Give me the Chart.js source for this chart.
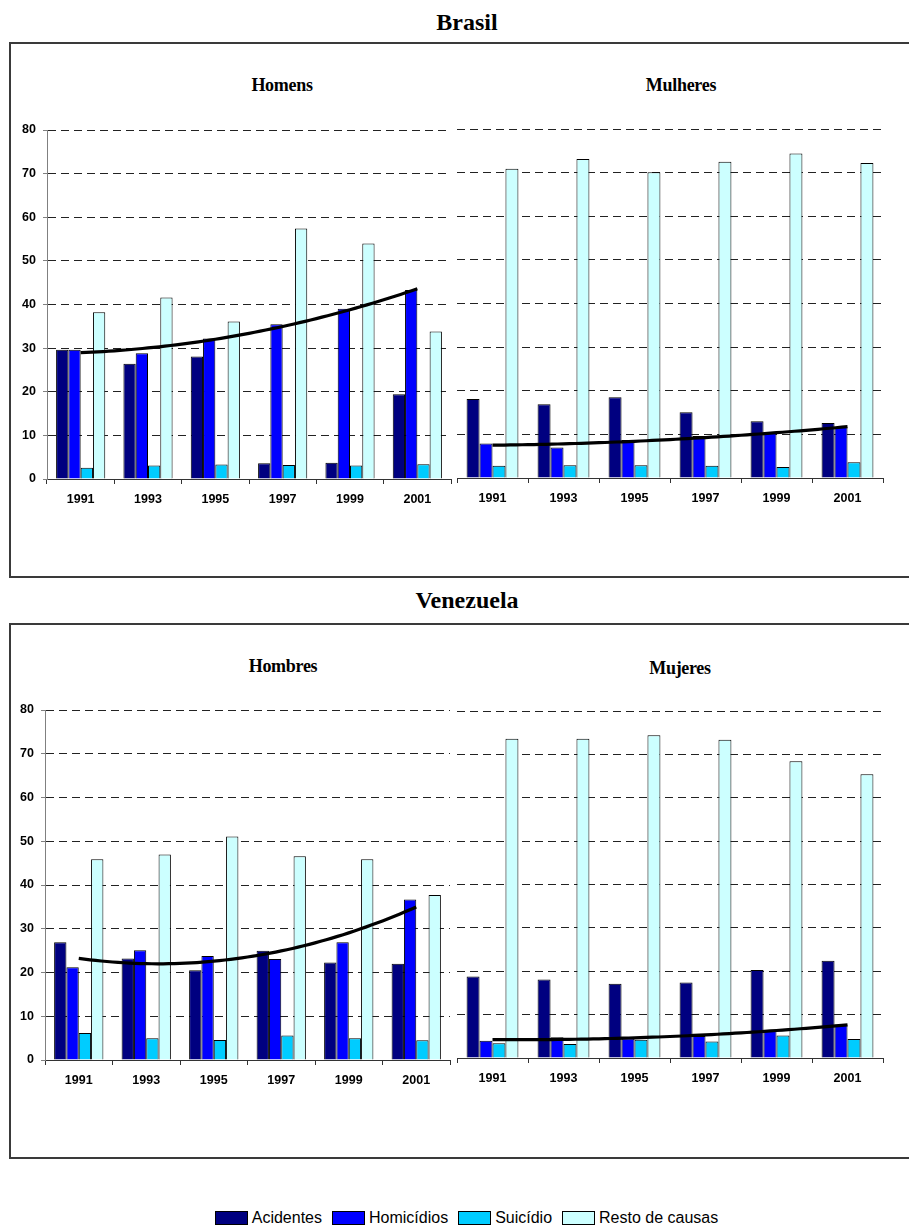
<!DOCTYPE html>
<html>
<head>
<meta charset="utf-8">
<script src="https://cdn.jsdelivr.net/npm/chart.js@4.4.1/dist/chart.umd.min.js"></script>
<style>
  html, body { margin: 0; padding: 0; background: #fff; }
  body { width: 909px; height: 1230px; position: relative; overflow: hidden;
         font-family: "Liberation Sans", Arial, sans-serif; color: #000; }
  .frame { position: absolute; border: 2px solid #3a3a3a; box-sizing: border-box; }
  .title { position: absolute; font-family: "Liberation Serif", "Times New Roman", serif;
           font-weight: bold; transform: translate(-50%, -50%); white-space: nowrap; }
  .main { font-size: 24px; }
  .sub { font-size: 18px; letter-spacing: -0.3px; }
  canvas { position: absolute; }
  #legend { position: absolute; left: 12px; top: 1209px; width: 909px; display: flex;
            justify-content: center; align-items: center; gap: 10px; font-size: 16px; }
  .item { display: flex; align-items: center; }
  .swatch { width: 31px; height: 12px; border: 1px solid #000; margin-right: 4px; }
</style>
</head>
<body>
<div class="title main" style="left:467px; top:22px;">Brasil</div>
<div class="frame" style="left:9px; top:42px; width:930px; height:536px;"></div>
<div class="title sub" style="left:282px; top:85px;">Homens</div>
<div class="title sub" style="left:681px; top:85px;">Mulheres</div>
<canvas id="brHom"></canvas><canvas id="brHomTrend"></canvas>
<canvas id="brMul"></canvas><canvas id="brMulTrend"></canvas>

<div class="title main" style="left:467px; top:600px;">Venezuela</div>
<div class="frame" style="left:9px; top:623px; width:930px; height:536px;"></div>
<div class="title sub" style="left:283px; top:666px;">Hombres</div>
<div class="title sub" style="left:680px; top:668px;">Mujeres</div>
<canvas id="veHom"></canvas><canvas id="veHomTrend"></canvas>
<canvas id="veMuj"></canvas><canvas id="veMujTrend"></canvas>

<div id="legend"></div>

<script>
// Categories and series
const years = ['1991', '1993', '1995', '1997', '1999', '2001'];
const causes = ['Acidentes', 'Homicídios', 'Suicídio', 'Resto de causas'];
const causeColors = ['#000080', '#0000FF', '#00CCFF', '#CCFFFF'];
const yMax = 80;
const yStep = 10;

// Brasil – Homens
const brHomAcidentes  = [29.6, 26.4, 28.1, 3.6, 3.7, 19.4];
const brHomHomicidios = [29.6, 28.8, 32.2, 35.5, 39.0, 43.3];
const brHomSuicidio   = [2.6, 3.1, 3.3, 3.2, 3.1, 3.4];
const brHomResto      = [38.2, 41.6, 36.1, 57.4, 54.0, 33.8];

// Brasil – Mulheres
const brMulAcidentes  = [18.1, 16.9, 18.5, 15.1, 13.0, 12.6];
const brMulHomicidios = [7.9, 7.0, 8.7, 9.6, 10.3, 11.7];
const brMulSuicidio   = [2.8, 2.9, 2.9, 2.8, 2.5, 3.6];
const brMulResto      = [70.9, 73.1, 70.1, 72.5, 74.4, 72.2];

// Venezuela – Hombres
const veHomAcidentes  = [26.9, 23.2, 20.5, 25.0, 22.3, 22.0];
const veHomHomicidios = [21.2, 25.1, 23.8, 23.1, 26.9, 36.7];
const veHomSuicidio   = [6.2, 5.0, 4.6, 5.6, 5.0, 4.5];
const veHomResto      = [45.9, 47.0, 51.1, 46.6, 45.9, 37.7];

// Venezuela – Mujeres
const veMujAcidentes  = [18.8, 18.1, 17.1, 17.4, 20.3, 22.4];
const veMujHomicidios = [4.0, 4.8, 4.5, 5.1, 6.4, 7.7];
const veMujSuicidio   = [3.4, 3.2, 4.2, 3.8, 5.2, 4.4];
const veMujResto      = [73.6, 73.6, 74.4, 73.4, 68.4, 65.4];

// Second-order least-squares trend of a series, sampled along the category index
function quadraticTrend(values, samples) {
  const n = values.length;
  let sx = 0, sx2 = 0, sx3 = 0, sx4 = 0, sy = 0, sxy = 0, sx2y = 0;
  values.forEach((y, x) => {
    sx += x; sx2 += x * x; sx3 += x ** 3; sx4 += x ** 4;
    sy += y; sxy += x * y; sx2y += x * x * y;
  });
  const M = [[n, sx, sx2], [sx, sx2, sx3], [sx2, sx3, sx4]];
  const v = [sy, sxy, sx2y];
  const det = m =>
    m[0][0] * (m[1][1] * m[2][2] - m[1][2] * m[2][1]) -
    m[0][1] * (m[1][0] * m[2][2] - m[1][2] * m[2][0]) +
    m[0][2] * (m[1][0] * m[2][1] - m[1][1] * m[2][0]);
  const D = det(M);
  const c = [0, 1, 2].map(k => det(M.map((row, i) => row.map((val, j) => (j === k ? v[i] : val)))) / D);
  const pts = [];
  for (let i = 0; i <= samples; i++) {
    const x = (n - 1) * i / samples;
    pts.push({ x, y: c[0] + c[1] * x + c[2] * x * x });
  }
  return pts;
}

function placeCanvas(id, geom) {
  const cv = document.getElementById(id);
  cv.width = geom.w; cv.height = geom.h;
  cv.style.left = geom.x + 'px'; cv.style.top = geom.y + 'px';
  return cv;
}

// One panel: grouped bars for the four causes, with the homicide trend curve
// drawn by a transparent line chart laid over the same plot area.
// geom: canvas box (x, y, w, h) and plot area (l, t, r, b) in page pixels.
function drawPanel(id, series, geom, showYAxis) {
  const cv = placeCanvas(id, geom);
  const yAxisWidth = geom.l - geom.x;
  const xAxisHeight = (geom.y + geom.h) - geom.b;
  const tickFont = { family: '"Liberation Sans", Arial, sans-serif', size: 12.5, weight: 'bold' };

  new Chart(cv, {
    type: 'bar',
    data: {
      labels: years,
      datasets: series.map((vals, i) => ({
        label: causes[i],
        data: vals,
        backgroundColor: causeColors[i],
        borderColor: '#000',
        borderWidth: 1,
        barPercentage: 1.0,
        categoryPercentage: 0.73
      }))
    },
    options: {
      responsive: false,
      animation: false,
      devicePixelRatio: 1,
      layout: { padding: { left: 0, top: geom.t - geom.y, right: (geom.x + geom.w) - geom.r, bottom: 0 } },
      plugins: { legend: { display: false }, tooltip: { enabled: false } },
      scales: {
        x: {
          type: 'category',
          offset: true,
          grid: { display: true, offset: true, drawOnChartArea: false, drawTicks: true,
                  tickLength: 5, tickColor: '#333', tickWidth: 1 },
          border: { display: true, color: '#333', width: 1 },
          ticks: { color: '#000', font: tickFont, padding: 8, maxRotation: 0, autoSkip: false },
          afterFit: s => { s.height = xAxisHeight; }
        },
        y: {
          type: 'linear',
          min: 0, max: yMax,
          grid: { display: true, color: '#222', lineWidth: 1, drawTicks: showYAxis,
                  tickLength: 4, tickColor: '#808080', tickBorderDash: [] },
          border: { display: showYAxis, color: '#808080', width: 1, dash: [8, 5] },
          ticks: { display: showYAxis, stepSize: yStep, color: '#000', font: tickFont, padding: 7 },
          afterFit: s => { s.width = yAxisWidth; }
        }
      }
    }
  });

  // Trend of homicides (polynomial, order 2)
  const tv = placeCanvas(id + 'Trend', geom);
  new Chart(tv, {
    type: 'line',
    data: {
      datasets: [{
        label: 'Tendência',
        data: quadraticTrend(series[1], 60),
        borderColor: '#000',
        borderWidth: 3.2,
        pointRadius: 0,
        fill: false,
        tension: 0
      }]
    },
    options: {
      responsive: false,
      animation: false,
      devicePixelRatio: 1,
      layout: { padding: { left: geom.l - geom.x, top: geom.t - geom.y,
                           right: (geom.x + geom.w) - geom.r, bottom: (geom.y + geom.h) - geom.b } },
      plugins: { legend: { display: false }, tooltip: { enabled: false } },
      scales: {
        x: { type: 'linear', display: false, min: -0.5, max: years.length - 0.5 },
        y: { type: 'linear', display: false, min: 0, max: yMax }
      }
    }
  });
}

drawPanel('brHom', [brHomAcidentes, brHomHomicidios, brHomSuicidio, brHomResto],
  { x: 10, y: 110, w: 445, h: 420, l: 47, t: 130, r: 451, b: 479 }, true);
drawPanel('brMul', [brMulAcidentes, brMulHomicidios, brMulSuicidio, brMulResto],
  { x: 455, y: 110, w: 440, h: 420, l: 457, t: 129, r: 883, b: 478 }, false);
drawPanel('veHom', [veHomAcidentes, veHomHomicidios, veHomSuicidio, veHomResto],
  { x: 10, y: 690, w: 445, h: 420, l: 45, t: 710, r: 450, b: 1060 }, true);
drawPanel('veMuj', [veMujAcidentes, veMujHomicidios, veMujSuicidio, veMujResto],
  { x: 455, y: 690, w: 440, h: 420, l: 457, t: 711, r: 883, b: 1058 }, false);

// Legend built from the cause names and colours
const legend = document.getElementById('legend');
causes.forEach((name, i) => {
  const item = document.createElement('div');
  item.className = 'item';
  const sw = document.createElement('div');
  sw.className = 'swatch';
  sw.style.background = causeColors[i];
  const tx = document.createElement('span');
  tx.textContent = name;
  item.appendChild(sw);
  item.appendChild(tx);
  legend.appendChild(item);
});
</script>
</body>
</html>
